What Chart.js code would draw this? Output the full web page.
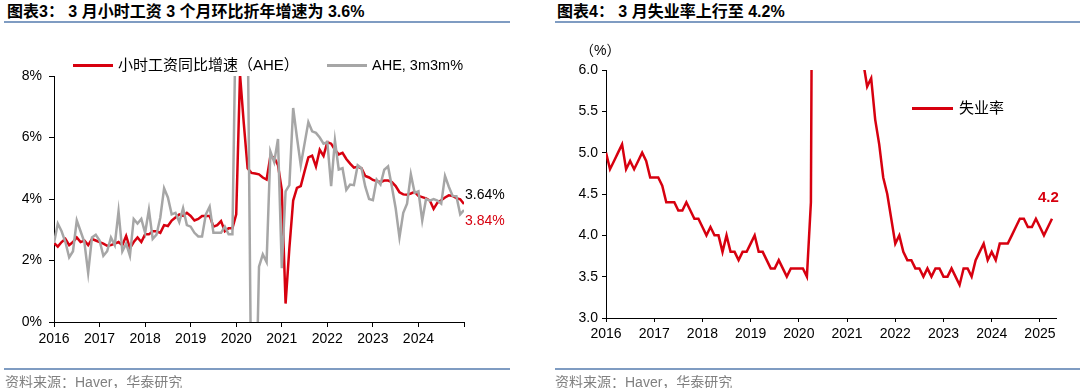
<!DOCTYPE html>
<html>
<head>
<meta charset="utf-8">
<script src="https://cdn.jsdelivr.net/npm/chart.js@4.4.1/dist/chart.umd.min.js"></script>
<style>
body { margin: 0; width: 1080px; height: 388px; background: #fff; position: relative; overflow: hidden;
       font-family: "Liberation Sans", "Noto Sans CJK SC", sans-serif; }
.abs { position: absolute; white-space: nowrap; line-height: 16px; }
.title { font-weight: bold; font-size: 16px; line-height: 18px; top: 3px; color: #000; }
.rule { position: absolute; height: 2px; background: #7f9cc2; }
.src { font-size: 14px; color: #808080; }
.leg { font-size: 14px; color: #000; }
.cjk { font-size: 15px; }
.swatch { position: absolute; height: 3px; }
canvas { position: absolute; top: 0; }
</style>
</head>
<body>

<div class="abs title" style="left:7px">图表3： 3 月小时工资 3 个月环比折年增速为 3.6%</div>
<div class="rule" style="left:4px;width:506px;top:21px"></div>
<div class="abs title" style="left:557px">图表4： 3 月失业率上行至 4.2%</div>
<div class="rule" style="left:555px;width:525px;top:21px"></div>

<canvas id="wage" width="540" height="370" style="left:0"></canvas>
<canvas id="unemp" width="540" height="370" style="left:540px"></canvas>

<div class="swatch" style="left:73px;width:40px;top:64px;background:#d7000f"></div>
<div class="abs leg cjk" style="left:118px;top:57px">小时工资同比增速（AHE）</div>
<div class="swatch" style="left:327px;width:40px;top:64px;background:#a6a6a6"></div>
<div class="abs leg" style="left:372px;top:57px;font-size:14.5px">AHE, 3m3m%</div>
<div class="abs leg" style="left:465px;top:186px">3.64%</div>
<div class="abs leg" style="left:465px;top:212px;color:#d7000f">3.84%</div>

<div class="abs leg" style="left:580px;top:42px">（%）</div>
<div class="swatch" style="left:912px;width:41px;top:107px;background:#d7000f"></div>
<div class="abs leg cjk" style="left:959px;top:100px">失业率</div>
<div class="abs" style="left:1038px;top:189px;font-size:15px;font-weight:bold;color:#d7000f">4.2</div>

<div class="rule" style="left:4px;width:506px;top:368px"></div>
<div class="abs src" style="left:5px;top:374px">资料来源：Haver，华泰研究</div>
<div class="rule" style="left:555px;width:525px;top:368px"></div>
<div class="abs src" style="left:555px;top:374px">资料来源：Haver，华泰研究</div>

<script>
// 图表3: 月度数据，横轴每12个月一个刻度
const wageTicks = ['2016', '2017', '2018', '2019', '2020', '2021', '2022', '2023', '2024'];
const aheYoy = [
  2.57, 2.45, 2.6, 2.7, 2.5, 2.6, 2.75, 2.6, 2.65, 2.5, 2.7, 2.65,
  2.6, 2.55, 2.48, 2.5, 2.55, 2.6, 2.5, 2.8, 2.4, 2.6, 2.75, 2.6,
  2.85, 2.85, 2.95, 2.95, 2.9, 3.15, 3.12, 3.3, 3.4, 3.5, 3.45, 3.55,
  3.45, 3.3, 3.35, 3.45, 3.45, 3.45, 3.1, 3.15, 3.28, 2.95, 3.05, 3.05,
  3.5, 8.05, 6.45, 5.0, 4.85, 4.83, 4.8, 4.7, 4.63, 5.39, 5.35, 5.1,
  4.3, 0.6, 2.4, 3.95, 4.36, 4.42, 4.9, 5.35, 5.41, 5.06, 5.6, 5.4,
  5.85, 5.8, 5.6, 5.45, 5.5, 5.3, 5.15, 5.02, 5.05, 5.0, 4.75, 4.7,
  4.62, 4.58, 4.55, 4.6, 4.6, 4.55, 4.42, 4.22, 4.15, 4.14, 4.18, 4.23,
  4.1, 4.06, 4.02, 3.95, 3.68, 3.88, 3.96, 4.05, 4.12, 4.1, 4.03, 3.99,
  3.84
];
const ahe3m3m = [
  2.57, 3.2, 2.95, 2.6, 2.1, 2.3, 3.3, 2.95, 2.6, 1.6, 2.75, 2.84,
  2.65, 2.15, 2.3, 2.75, 2.5, 3.6, 2.3, 2.55, 2.15, 3.35, 3.2, 3.35,
  2.9, 3.65, 2.7, 2.84, 3.4, 4.35, 4.05, 3.5, 3.55, 3.25, 3.7, 3.15,
  3.1, 2.9, 2.78, 2.78, 3.5, 3.75, 2.9, 2.9, 2.9, 3.1, 2.85, 2.85,
  11, 17, 20, 10, -3, -4, 1.8, 2.2, 1.95, 5.55, 5.2, 5.95,
  1.75, 4.25, 4.45, 6.96, 6.0, 5.1, 5.8, 6.5, 6.2, 6.15, 6.0, 5.8,
  5.85, 4.42, 5.9, 4.96, 5.0, 4.3, 4.47, 4.45, 5.1, 5.0, 4.4, 4.0,
  3.96, 4.63, 4.47, 4.95, 5.06, 4.4, 3.7, 2.75, 3.55, 3.85, 4.8, 4.2,
  4.25, 3.3, 4.0, 3.95, 4.0, 3.95, 3.85, 4.75, 4.4, 4.1, 4.09, 3.5,
  3.64
];

// 图表4: 失业率（%）
const urTicks = ['2016', '2017', '2018', '2019', '2020', '2021', '2022', '2023', '2024', '2025'];
const unemployment = [
  5.0, 4.8, 4.9, 5.0, 5.1, 4.8, 4.9, 4.8, 4.9, 5.0, 4.9, 4.7,
  4.7, 4.7, 4.6, 4.4, 4.4, 4.4, 4.3, 4.3, 4.4, 4.3, 4.2, 4.2,
  4.1, 4.0, 4.1, 4.0, 4.0, 3.8, 4.0, 3.8, 3.8, 3.7, 3.8, 3.8,
  3.9, 4.0, 3.8, 3.8, 3.7, 3.6, 3.6, 3.7, 3.6, 3.5, 3.6, 3.6,
  3.6, 3.6, 3.5, 4.4, 14.8, 13.2, 11.0, 10.2, 8.4, 7.8, 6.8, 6.7,
  6.7, 6.4, 6.2, 6.1, 6.1, 5.8, 5.9, 5.4, 5.1, 4.7, 4.5, 4.2,
  3.9, 4.0, 3.8, 3.7, 3.7, 3.6, 3.6, 3.5, 3.6, 3.5, 3.6, 3.6,
  3.5, 3.5, 3.6, 3.5, 3.4, 3.6, 3.6, 3.5, 3.7, 3.8, 3.9, 3.7,
  3.8, 3.7, 3.9, 3.9, 3.9, 4.0, 4.1, 4.2, 4.2, 4.1, 4.1, 4.2,
  4.1, 4.0, 4.1, 4.2
];

const RED = '#d7000f';
const GREY = '#a6a6a6';
const tickFont = { size: 14, family: 'Liberation Sans' };

const toPoints = arr => arr.map((v, i) => ({ x: i, y: v }));

function yearAxis(max, labels, tickLen) {
  return {
    type: 'linear',
    min: 0,
    max: max,
    afterBuildTicks: s => { s.ticks = s.ticks.filter(t => t.value % 12 === 0); },
    ticks: {
      stepSize: 12, includeBounds: false, autoSkip: false, maxRotation: 0,
      color: '#000', font: tickFont, padding: 4,
      callback: v => labels[v / 12] || ''
    },
    grid: { drawOnChartArea: false, drawTicks: true, tickLength: tickLen, color: '#000' },
    border: { color: '#000', width: 1 },
    afterFit: s => { s.height = 30; }
  };
}

function lineSet(data, color, order) {
  return {
    data: toPoints(data),
    borderColor: color,
    borderWidth: 2.5,
    pointRadius: 0,
    tension: 0,
    fill: false,
    order: order
  };
}

new Chart(document.getElementById('wage'), {
  type: 'line',
  data: {
    datasets: [
      lineSet(aheYoy, RED, 1),
      lineSet(ahe3m3m, GREY, 0)
    ]
  },
  options: {
    responsive: false,
    devicePixelRatio: 1,
    animation: false,
    layout: { padding: { left: 0, top: 76, right: 76, bottom: 18 } },
    plugins: { legend: { display: false }, tooltip: { enabled: false } },
    scales: {
      x: yearAxis(108, wageTicks, 5),
      y: {
        min: 0, max: 8,
        ticks: { stepSize: 2, color: '#000', font: tickFont, padding: 7, callback: v => v + '%' },
        grid: { drawOnChartArea: false, tickLength: 5, color: '#000' },
        border: { color: '#000', width: 1 },
        afterFit: s => { s.width = 54; }
      }
    }
  }
});

new Chart(document.getElementById('unemp'), {
  type: 'line',
  data: {
    datasets: [lineSet(unemployment, RED, 0)]
  },
  options: {
    responsive: false,
    devicePixelRatio: 1,
    animation: false,
    layout: { padding: { left: 0, top: 70, right: 24, bottom: 22 } },
    plugins: { legend: { display: false }, tooltip: { enabled: false } },
    scales: {
      x: yearAxis(112, urTicks, 4),
      y: {
        min: 3, max: 6,
        ticks: { stepSize: 0.5, color: '#000', font: tickFont, padding: 4, callback: v => v.toFixed(1) },
        grid: { drawOnChartArea: false, tickLength: 4, color: '#000' },
        border: { color: '#000', width: 1 },
        afterFit: s => { s.width = 66; }
      }
    }
  }
});
</script>
</body>
</html>
